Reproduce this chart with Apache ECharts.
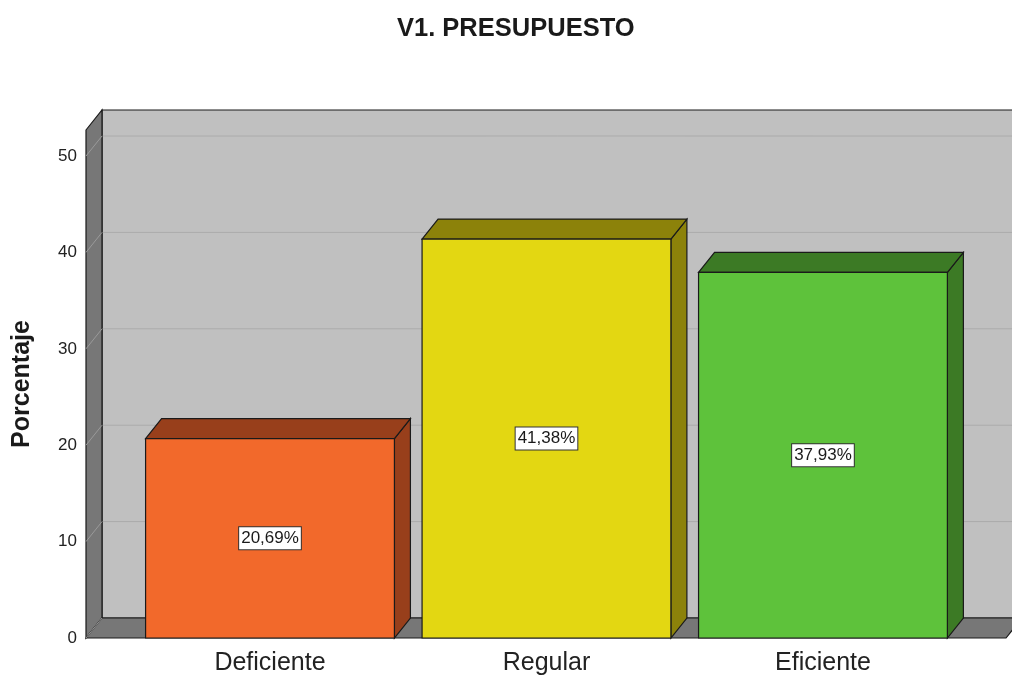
<!DOCTYPE html>
<html>
<head>
<meta charset="utf-8">
<script src="https://cdn.jsdelivr.net/npm/echarts@6/dist/echarts.min.js"></script>
<style>html,body{margin:0;padding:0;background:#fff}#c{width:1012px;height:676px}</style>
</head>
<body>
<div id="c"></div>
<script>
var title = 'V1. PRESUPUESTO';
var categories = ['Deficiente', 'Regular', 'Eficiente'];
var values = [20.69, 41.38, 37.93];
var valueLabels = ['20,69%', '41,38%', '37,93%'];
var yTicks = [0, 10, 20, 30, 40, 50];
var frontColors = ['#F2692B', '#E3D712', '#5EC23B'];
var darkColors = ['#983F1B', '#8C820A', '#3C7A25'];

var DX = 16, DY = -20;
var FONT = '"Liberation Sans", Arial, sans-serif';
var chart = echarts.init(document.getElementById('c'));

function frameRender(params, api) {
  var cs = params.coordSys;
  var x0 = cs.x, x1 = cs.x + cs.width, y0 = cs.y, yb = api.coord([0, 0])[1];
  var kids = [];
  kids.push({type: 'rect', shape: {x: x0 + DX, y: y0 + DY, width: cs.width, height: yb - y0},
    style: {fill: '#C0C0C0', stroke: '#1a1a1a', lineWidth: 1.2}});
  yTicks.forEach(function (t) {
    if (t === 0) return;
    var y = api.coord([0, t])[1];
    kids.push({type: 'line', shape: {x1: x0 + DX, y1: y + DY, x2: x1 + DX, y2: y + DY},
      style: {stroke: '#ABABAB', lineWidth: 1}});
  });
  kids.push({type: 'polygon', shape: {points: [[x0, y0], [x0 + DX, y0 + DY], [x0 + DX, yb + DY], [x0, yb]]},
    style: {fill: '#777777', stroke: '#1a1a1a', lineWidth: 1.2}});
  yTicks.forEach(function (t) {
    if (t === 0) return;
    var y = api.coord([0, t])[1];
    kids.push({type: 'line', shape: {x1: x0, y1: y, x2: x0 + DX, y2: y + DY},
      style: {stroke: '#9A9A9A', lineWidth: 1}});
  });
  kids.push({type: 'polygon', shape: {points: [[x0, yb], [x0 + DX, yb + DY], [x1 + DX, yb + DY], [x1, yb]]},
    style: {fill: '#777777', stroke: '#1a1a1a', lineWidth: 1.2}});
  kids.push({type: 'line', shape: {x1: x0, y1: yb, x2: x0 + DX, y2: yb + DY},
    style: {stroke: '#9A9A9A', lineWidth: 1}});
  return {type: 'group', children: kids};
}

function barRender(params, api) {
  var i = api.value(0), v = api.value(1);
  var tl = api.coord([i - 0.45, v]);
  var br = api.coord([i + 0.45, 0]);
  var x0 = tl[0], x1 = br[0], yt = tl[1], yb = br[1];
  var idx = params.dataIndex;
  var mid = api.coord([i, v / 2]);
  var st = {stroke: '#1a1a1a', lineWidth: 1.2};
  return {type: 'group', children: [
    {type: 'polygon', shape: {points: [[x1, yt], [x1 + DX, yt + DY], [x1 + DX, yb + DY], [x1, yb]]},
      style: Object.assign({fill: darkColors[idx]}, st)},
    {type: 'polygon', shape: {points: [[x0, yt], [x0 + DX, yt + DY], [x1 + DX, yt + DY], [x1, yt]]},
      style: Object.assign({fill: darkColors[idx]}, st)},
    {type: 'rect', shape: {x: x0, y: yt, width: x1 - x0, height: yb - yt},
      style: Object.assign({fill: frontColors[idx]}, st)},
    {type: 'text', x: mid[0], y: mid[1],
      style: {text: valueLabels[idx], align: 'center', verticalAlign: 'middle',
        font: '17px ' + FONT, fill: '#1a1a1a', backgroundColor: '#fff',
        borderColor: '#333', borderWidth: 1, padding: [3, 2, 2, 2]}}
  ]};
}

chart.setOption({
  animation: false,
  title: {text: title, left: 392, top: 11,
    textStyle: {fontFamily: FONT, fontSize: 25.5, fontWeight: 'bold', color: '#1a1a1a'}},
  grid: {left: 86, right: 6, top: 130, bottom: 38},
  xAxis: {type: 'value', min: -0.6655, max: 2.662,
    axisLine: {show: false}, axisTick: {show: false}, splitLine: {show: false},
    axisLabel: {customValues: [0, 1, 2], formatter: function (v) { return categories[Math.round(v)]; },
      fontFamily: FONT, fontSize: 25, color: '#222', margin: 13}},
  yAxis: {type: 'value', min: 0, max: 52.7,
    name: 'Porcentaje', nameLocation: 'middle', nameGap: 51, nameRotate: 90,
    nameTextStyle: {fontFamily: FONT, fontSize: 25, fontWeight: 'bold', color: '#1a1a1a'},
    axisLine: {show: false}, axisTick: {show: false}, splitLine: {show: false},
    axisLabel: {customValues: yTicks, fontFamily: FONT, fontSize: 17, color: '#222', margin: 9}},
  series: [
    {type: 'custom', renderItem: frameRender, data: [[0, 0]], clip: false, z: 1, silent: true},
    {type: 'custom', renderItem: barRender, clip: false, z: 2,
      data: values.map(function (v, i) { return [i, v]; })}
  ]
});
</script>
</body>
</html>
